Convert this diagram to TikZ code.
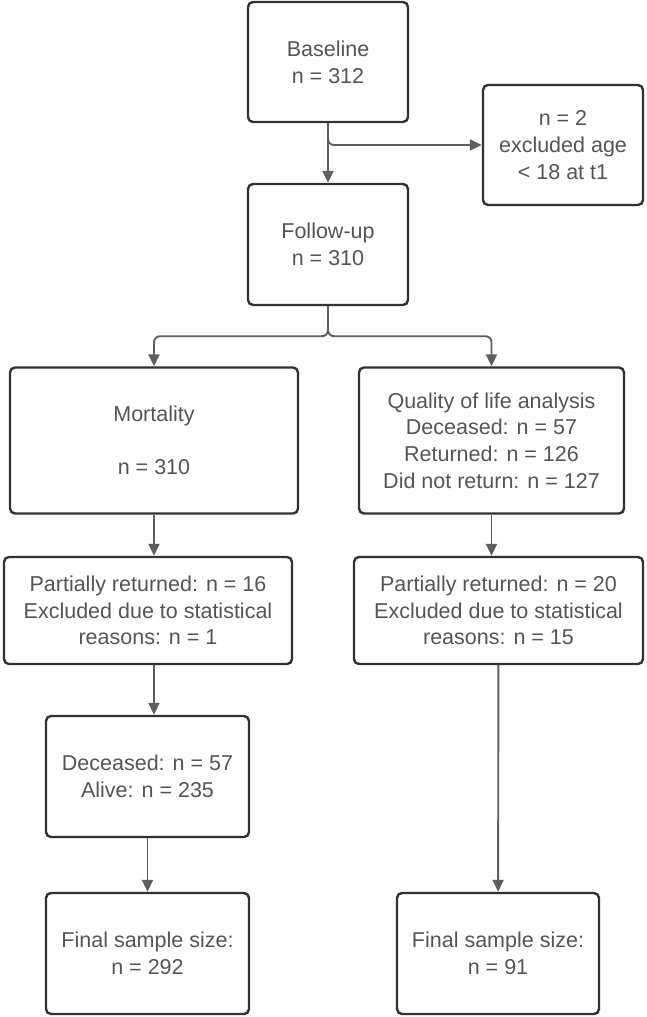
\documentclass[tikz,border=0pt]{standalone}
\usepackage{fontspec}
\setmainfont{Liberation Sans}
\usetikzlibrary{arrows.meta}
\definecolor{cBox}{RGB}{50,50,50}
\definecolor{cLine}{RGB}{95,95,95}
\definecolor{cText}{RGB}{85,85,85}
\begin{document}
\begin{tikzpicture}[
  x=1pt, y=-1pt,
  box/.style={draw=cBox, line width=2.4pt, rounded corners=5pt, inner sep=0pt, align=center,
    text=cText, font=\fontsize{21.5}{26.7}\selectfont},
  arr/.style={draw=cLine, line width=1.9pt, -{Triangle[length=12pt,width=11pt]}}]
\useasboundingbox (0,0) rectangle (646,1017);
% top part
\node[box, minimum width=160, minimum height=120] (base) at (328,62) {Baseline\\n = 312};
\node[box, minimum width=160, minimum height=120] (excl) at (563,145) {n = 2\\excluded age\\< 18 at t1};
\node[box, minimum width=160, minimum height=121] (fup) at (328,244.5) {Follow-up\\n = 310};
% two arms
\node[box, minimum width=288, minimum height=146] (mort) at (154,440.5) {Mortality\\\mbox{}\\n = 310};
\node[box, minimum width=265, minimum height=146] (qol) at (491.5,440.5) {Quality of life analysis\\Deceased: n = 57\\Returned: n = 126\\Did not return: n = 127};
\node[box, minimum width=288, minimum height=107] (partL) at (148,610.5) {Partially returned: n = 16\\Excluded due to statistical\\reasons: n = 1};
\node[box, minimum width=289, minimum height=107] (partR) at (498.5,610.5) {Partially returned: n = 20\\Excluded due to statistical\\reasons: n = 15};
\node[box, minimum width=203, minimum height=121] (dec) at (147.5,776.5) {Deceased: n = 57\\Alive: n = 235};
\node[box, minimum width=203, minimum height=121] (finL) at (147.5,953.5) {Final sample size:\\n = 292};
\node[box, minimum width=202, minimum height=121] (finR) at (498,953.5) {Final sample size:\\n = 91};
% connectors
\draw[arr] (base) -- (fup);
\draw[arr, rounded corners=6pt] (base.south) |- (excl.west);
\draw[arr, rounded corners=6pt] (fup.south) -- ++(0,30) -| (mort.north);
\draw[arr, rounded corners=6pt] (fup.south) -- ++(0,30) -| (qol.north);
\draw[arr] (mort.south) -- (mort.south |- partL.north);
\draw[arr] (partL.south -| mort.south) -- (dec.north -| mort.south);
\draw[arr] (dec) -- (finL);
\draw[arr] (qol.south) -- (qol.south |- partR.north);
\draw[arr] (partR) -- (finR);
\end{tikzpicture}
\end{document}
